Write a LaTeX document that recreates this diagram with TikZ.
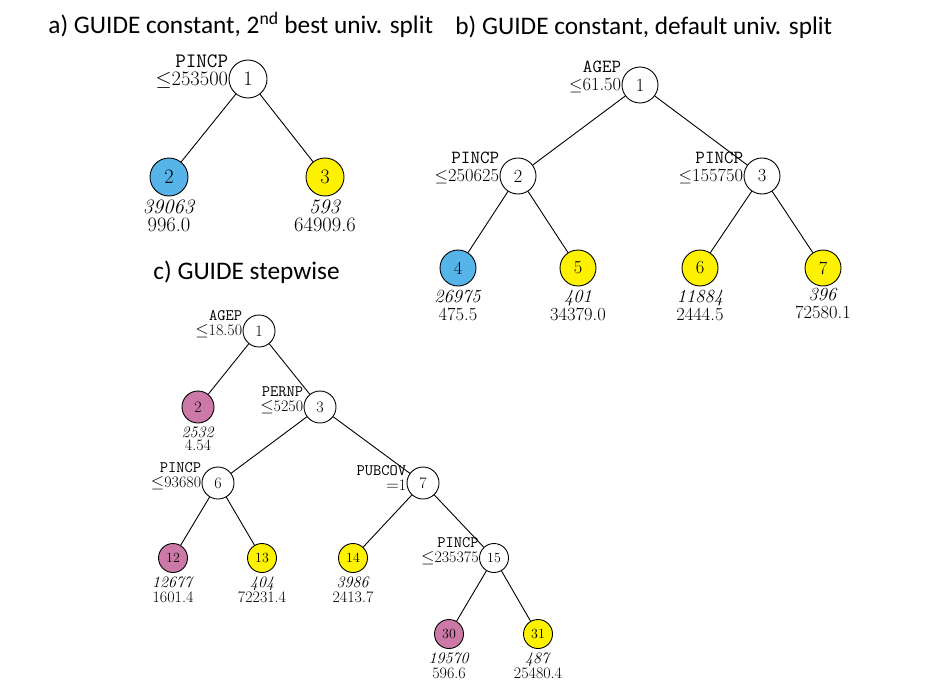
\documentclass[tikz,border=0pt]{standalone}
\usepackage{amsmath}
\usepackage{amssymb}
\usepackage{fontspec}
\newfontfamily\titlefont{Carlito}
\usepackage{tikz}
\usetikzlibrary{positioning}
\definecolor{leafblue}{RGB}{86,180,233}
\definecolor{leafyellow}{RGB}{255,242,0}
\definecolor{leafpink}{RGB}{204,121,167}

\begin{document}
\begin{tikzpicture}[x=1pt,y=1pt,line width=0.9pt]
\tikzstyle{split}=[circle,draw=black,fill=white,inner sep=0pt]
\tikzstyle{cut}=[align=right,inner sep=0pt,anchor=south east]
\tikzstyle{info}=[align=center,inner sep=0pt]
\tikzstyle{heading}=[font=\titlefont\fontsize{25.3}{28}\selectfont,anchor=west,inner sep=0pt]
\useasboundingbox (0,0) rectangle (936,-698);

% titles
\node[heading] (ta) at (48,-25) {a) GUIDE constant, 2\textsuperscript{nd} best univ. split};
\node[heading] (tb) at (455,-27) {b) GUIDE constant, default univ. split};
\node[heading] (tc) at (153,-272) {c) GUIDE stepwise};

% a) 2nd best split
\begin{scope}[font=\fontsize{20.5}{17.5}\selectfont,every node/.append style={minimum size=38pt}]
\node[split] (a1) at (248,-79) {1};
\node[split,fill=leafblue,on grid,below left=98pt and 79pt of a1] (a2) {2};
\node[split,fill=leafyellow,on grid,below right=98pt and 77pt of a1] (a3) {3};
\node[cut,minimum size=0pt] (a1c) at ([yshift=-9.5pt]a1.west) {\texttt{PINCP}\\$\le$253500};
\node[info,minimum size=0pt,below=3pt of a2] (a2i) {\textit{39063}\\996.0};
\node[info,minimum size=0pt,below=3pt of a3] (a3i) {\textit{593}\\64909.6};
\path (a1) edge (a2)
           edge (a3);
\end{scope}

% b) default split
\begin{scope}[font=\fontsize{18.5}{18.5}\selectfont,every node/.append style={minimum size=36pt}]
\node[split] (b1) at (640,-85) {1};
\node[split,on grid,below left=91pt and 122pt of b1] (b2) {2};
\node[split,on grid,below right=91pt and 122pt of b1] (b3) {3};
\node[split,fill=leafblue,on grid,below left=92pt and 60pt of b2] (b4) {4};
\node[split,fill=leafyellow,on grid,below right=92pt and 60pt of b2] (b5) {5};
\node[split,fill=leafyellow,on grid,below left=92pt and 62pt of b3] (b6) {6};
\node[split,fill=leafyellow,on grid,below right=92pt and 61pt of b3] (b7) {7};
\node[cut,minimum size=0pt] (b1c) at ([yshift=-8.5pt]b1.west) {\texttt{AGEP}\\$\le$61.50};
\node[cut,minimum size=0pt] (b2c) at ([yshift=-8.5pt]b2.west) {\texttt{PINCP}\\$\le$250625};
\node[cut,minimum size=0pt] (b3c) at ([yshift=-8.5pt]b3.west) {\texttt{PINCP}\\$\le$155750};
\node[info,minimum size=0pt,below=3pt of b4] (b4i) {\textit{26975}\\475.5};
\node[info,minimum size=0pt,below=3pt of b5] (b5i) {\textit{401}\\34379.0};
\node[info,minimum size=0pt,below=3pt of b6] (b6i) {\textit{11884}\\2444.5};
\node[info,minimum size=0pt,below=1pt of b7] (b7i) {\textit{396}\\72580.1};
\path (b1) edge (b2)
           edge (b3)
      (b2) edge (b4)
           edge (b5)
      (b3) edge (b6)
           edge (b7);
\end{scope}

% c) stepwise
\begin{scope}[font=\fontsize{16}{15}\selectfont,every node/.append style={minimum size=32pt}]
\tikzstyle{twodig}=[font=\fontsize{14}{15}\selectfont,minimum size=29pt]
\node[split] (c1) at (259,-331) {1};
\node[split,fill=leafpink,on grid,below left=76pt and 61pt of c1] (c2) {2};
\node[split,on grid,below right=76pt and 61pt of c1] (c3) {3};
\node[split,on grid,below left=76pt and 102pt of c3] (c6) {6};
\node[split,on grid,below right=76pt and 103pt of c3] (c7) {7};
\node[split,twodig,fill=leafpink,on grid,below left=75pt and 45pt of c6] (c12) {12};
\node[split,twodig,fill=leafyellow,on grid,below right=75pt and 44pt of c6] (c13) {13};
\node[split,twodig,fill=leafyellow,on grid,below left=75pt and 70pt of c7] (c14) {14};
\node[split,twodig,on grid,below right=75pt and 71pt of c7] (c15) {15};
\node[split,twodig,fill=leafpink,on grid,below left=76pt and 45pt of c15] (c30) {30};
\node[split,twodig,fill=leafyellow,on grid,below right=76pt and 44pt of c15] (c31) {31};
\node[cut,minimum size=0pt] (c1c) at ([yshift=-7.5pt]c1.west) {\texttt{AGEP}\\$\le$18.50};
\node[cut,minimum size=0pt] (c3c) at ([yshift=-7.5pt]c3.west) {\texttt{PERNP}\\$\le$5250};
\node[cut,minimum size=0pt] (c6c) at ([yshift=-7.5pt]c6.west) {\texttt{PINCP}\\$\le$93680};
\node[cut,minimum size=0pt] (c7c) at ([yshift=-7.5pt]c7.west) {\texttt{PUBCOV}\\$=$1};
\node[cut,minimum size=0pt] (c15c) at ([yshift=-7.5pt]c15.west) {\texttt{PINCP}\\$\le$235375};
\node[info,minimum size=0pt,font=\fontsize{16}{13}\selectfont,below=3pt of c2] (c2i) {\textit{2532}\\4.54};
\node[info,minimum size=0pt,below=3pt of c12] (c12i) {\textit{12677}\\1601.4};
\node[info,minimum size=0pt,below=3pt of c13] (c13i) {\textit{404}\\72231.4};
\node[info,minimum size=0pt,below=3pt of c14] (c14i) {\textit{3986}\\2413.7};
\node[info,minimum size=0pt,below=3pt of c30] (c30i) {\textit{19570}\\596.6};
\node[info,minimum size=0pt,below=3pt of c31] (c31i) {\textit{487}\\25480.4};
\path (c1) edge (c2)
           edge (c3)
      (c3) edge (c6)
           edge (c7)
      (c6) edge (c12)
           edge (c13)
      (c7) edge (c14)
           edge (c15)
      (c15) edge (c30)
            edge (c31);
\end{scope}
\end{tikzpicture}
\end{document}
